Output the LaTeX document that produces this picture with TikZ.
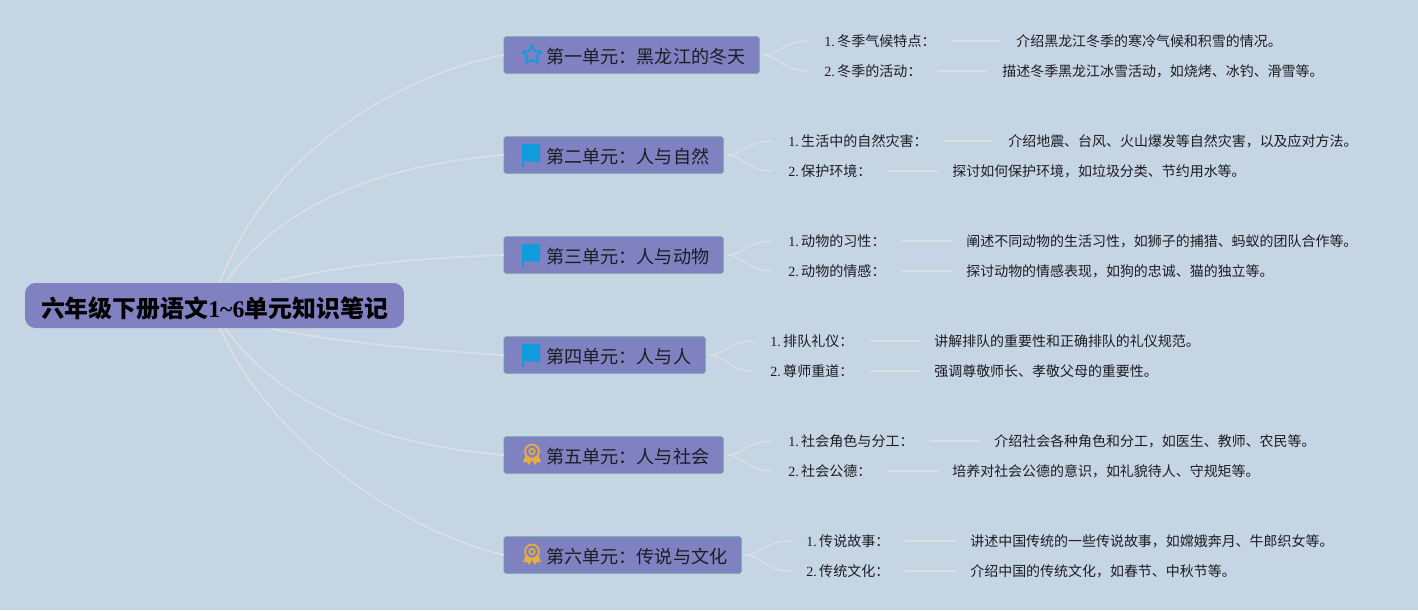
\documentclass[tikz,border=0pt]{standalone}
\usepackage{fontspec}
\setmainfont{Liberation Serif}
\newfontfamily\cjk{Noto Sans CJK SC}
\usepackage{xcolor}
\usepackage{tikz}
\usetikzlibrary{positioning, calc}

\definecolor{bgblue}{HTML}{C6D5E3}
\definecolor{boxpurple}{HTML}{7F81C1}
\definecolor{boxedge}{HTML}{6C93AE}
\definecolor{linecream}{HTML}{D9DFE3}
\definecolor{inkdark}{HTML}{1C1C22}
\definecolor{flagblue}{HTML}{109CDD}
\definecolor{medalgold}{HTML}{E8AE3C}

\tikzset{
    rootbox/.style={fill=boxpurple, rounded corners=6pt, inner sep=0pt, minimum height=0.9cm},
    roottext/.style={inner sep=0pt, text=black, font=\fontsize{13.6}{16}\selectfont\bfseries},
    unitbox/.style={fill=boxpurple, draw=boxedge, line width=0.6pt, rounded corners=1pt, inner sep=0pt, minimum height=0.72cm, anchor=west},
    unittext/.style={anchor=west, inner sep=0pt, text=inkdark, font=\fontsize{10.3}{12}\selectfont\cjk},
    leaflabel/.style={anchor=west, inner sep=0pt, text=inkdark, font=\fontsize{8}{10}\selectfont},
    leaftext/.style={anchor=west, inner sep=0pt, text=inkdark, font=\fontsize{7.95}{10}\selectfont\cjk},
    branchline/.style={linecream, line width=1pt, line cap=round},
    leafline/.style={linecream, line width=0.8pt, line cap=round}
}

% Biểu tượng nhỏ bên trái mỗi ô
\newcommand{\staricon}[1]{
    \draw[flagblue, line width=1pt, line join=round, shift={(#1)}]
        (-90:10) -- (-54:4.8) -- (-18:10) -- (18:4.8) -- (54:9.5) -- (90:4.8)
        -- (126:9.5) -- (162:4.8) -- (198:10) -- (234:4.8) -- cycle;
}
\newcommand{\flagicon}[1]{
    \fill[flagblue, shift={(#1)}] (-10,-11) -- (8,-11) -- (8,7) -- (-8,6) -- (-8,12) -- (-10,12) -- cycle;
}
\newcommand{\medalicon}[1]{
    \fill[medalgold, shift={(#1)}] (-6,0) -- (-9,7) -- (-5,7) -- (-3,10) -- (0,5) -- (3,10) -- (5,7) -- (9,7) -- (6,0) -- cycle;
    \draw[medalgold, line width=1pt, fill=boxpurple, shift={(#1)}] (0,-3.5) circle (7);
    \draw[medalgold, line width=0.9pt, shift={(#1)}] (0,-3.5) circle (2.8);
}

\begin{document}
\begin{tikzpicture}[x=0.02cm, y=-0.02cm]
    % 1. Nền
    \fill[bgblue] (0,0) rectangle (1418,610);
    \useasboundingbox (0,0) rectangle (1418,610);

    % 2. Nút gốc
    \node[rootbox, minimum width=7.58cm] (root) at (214.5,305.5) {};
    \node[roottext] (roottitle) at (214.5,308)
        {{\cjk 六年级下册语文}1\char`\~6{\cjk 单元知识笔记}};

    % 3. Các ô đơn vị
    \foreach \nm/\yy/\boxw/\txt in {
        uone/55/255/第一单元：黑龙江的冬天,
        utwo/155/219/第二单元：人与自然,
        uthree/255/219/第三单元：人与动物,
        ufour/355/201/第四单元：人与人,
        ufive/455/219/第五单元：人与社会,
        usix/555/237/第六单元：传说与文化} {
        \node[unitbox, minimum width=\boxw*0.02cm] (\nm) at (503.5,\yy) {};
        \node[unittext] (\nm text) at (546,\yy+1.5) {\txt};
        \coordinate (\nm icon) at (532,\yy);
    }
    \staricon{uoneicon}
    \flagicon{utwoicon}
    \flagicon{uthreeicon}
    \flagicon{ufouricon}
    \medalicon{ufiveicon}
    \medalicon{usixicon}

    % 4. Nhánh từ nút gốc
    \coordinate (rta) at (220,282);
    \coordinate (rtb) at (226,282);
    \coordinate (rtc) at (272,282);
    \coordinate (rbc) at (272,329);
    \coordinate (rbb) at (226,329);
    \coordinate (rba) at (220,329);
    \draw[branchline] (rta) .. controls (270,150) and (400,75) .. (uone.west);
    \draw[branchline] (rtb) .. controls (280,205) and (380,165) .. (utwo.west);
    \draw[branchline] (rtc) .. controls (340,265) and (420,258) .. (uthree.west);
    \draw[branchline] (rbc) .. controls (340,342) and (420,350) .. (ufour.west);
    \draw[branchline] (rbb) .. controls (280,405) and (380,445) .. (ufive.west);
    \draw[branchline] (rba) .. controls (270,440) and (400,530) .. (usix.west);

    % 5. Các mục con
    \foreach \nm/\parnt/\xl/\yy/\xs/\xe/\xt/\lb/\tx in {
        aa/uone/824/41/952/1000/1016/{1.\,{\cjk 冬季气候特点：}}/介绍黑龙江冬季的寒冷气候和积雪的情况。,
        ab/uone/824/71/938/986/1002/{2.\,{\cjk 冬季的活动：}}/描述冬季黑龙江冰雪活动，如烧烤、冰钓、滑雪等。,
        ba/utwo/788/141/944/992/1008/{1.\,{\cjk 生活中的自然灾害：}}/介绍地震、台风、火山爆发等自然灾害，以及应对方法。,
        bb/utwo/788/171/888/938/952/{2.\,{\cjk 保护环境：}}/探讨如何保护环境，如垃圾分类、节约用水等。,
        ca/uthree/788/241/902/952/966/{1.\,{\cjk 动物的习性：}}/阐述不同动物的生活习性，如狮子的捕猎、蚂蚁的团队合作等。,
        cb/uthree/788/271/902/952/966/{2.\,{\cjk 动物的情感：}}/探讨动物的情感表现，如狗的忠诚、猫的独立等。,
        da/ufour/770/341/870/920/934/{1.\,{\cjk 排队礼仪：}}/讲解排队的重要性和正确排队的礼仪规范。,
        db/ufour/770/371/870/920/934/{2.\,{\cjk 尊师重道：}}/强调尊敬师长、孝敬父母的重要性。,
        ea/ufive/788/441/930/980/994/{1.\,{\cjk 社会角色与分工：}}/介绍社会各种角色和分工，如医生、教师、农民等。,
        eb/ufive/788/471/888/938/952/{2.\,{\cjk 社会公德：}}/培养对社会公德的意识，如礼貌待人、守规矩等。,
        fa/usix/806/541/906/956/970/{1.\,{\cjk 传说故事：}}/讲述中国传统的一些传说故事，如嫦娥奔月、牛郎织女等。,
        fb/usix/806/571/906/956/970/{2.\,{\cjk 传统文化：}}/介绍中国的传统文化，如春节、中秋节等。} {
        \node[leaflabel] (\nm) at (\xl,\yy) {\lb};
        \node[leaftext] (\nm d) at (\xt,\yy) {\tx};
        \coordinate (\nm s) at (\xs,\yy);
        \coordinate (\nm e) at (\xe,\yy);
        \coordinate (\nm f) at (\xl-16,\yy);
        \draw[leafline] (\nm s) -- (\nm e);
        \draw[leafline] ($(\parnt.east)+(4,0)$) .. controls ($(\parnt.east)+(18,0)$) and ($(\nm f)+(-24,0)$) .. (\nm f);
    }
\end{tikzpicture}
\end{document}
